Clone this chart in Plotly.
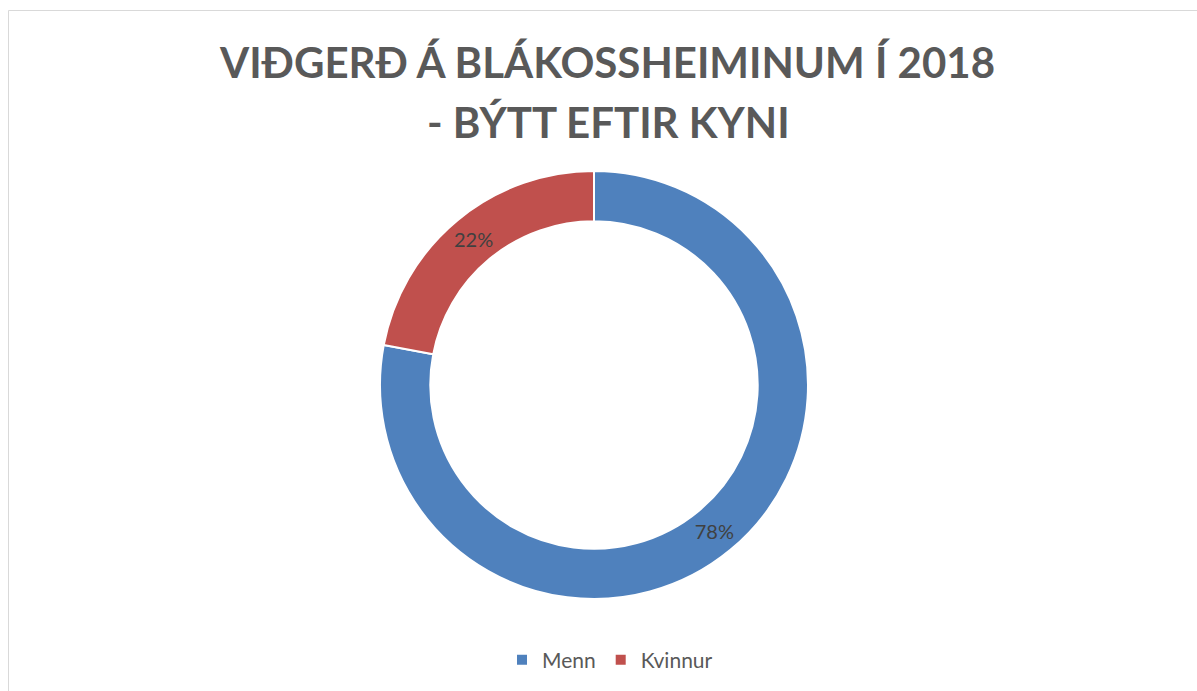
import plotly.graph_objects as go

categories = ["Menn", "Kvinnur"]
values = [78, 22]
colors = ["#4F81BD", "#C0504D"]
title_lines = ["VIĐGERĐ Á BLÁKOSSHEIMINUM Í 2018", "- BÝTT EFTIR KYNI"]

W, H = 1197, 691

fig = go.Figure(go.Pie(
    labels=categories,
    values=values,
    hole=0.765,
    sort=False,
    direction="clockwise",
    rotation=0,
    marker=dict(colors=colors, line=dict(color="white", width=2)),
    textinfo="percent",
    texttemplate="%{percent:.0%}",
    textposition="inside",
    insidetextorientation="horizontal",
    textfont=dict(family="Lato", size=20, color="#404040"),
    domain=dict(x=[380 / W, 808 / W], y=[(H - 599) / H, (H - 171) / H]),
    hoverinfo="label+percent",
))

fig.add_annotation(text="<b>%s</b>" % title_lines[0], x=607 / W, y=(H - 62) / H,
                   xref="paper", yref="paper", xanchor="center", yanchor="middle",
                   showarrow=False, font=dict(family="Lato", size=42, color="#595959"))
fig.add_annotation(text="<b>%s</b>" % title_lines[1], x=608 / W, y=(H - 122) / H,
                   xref="paper", yref="paper", xanchor="center", yanchor="middle",
                   showarrow=False, font=dict(family="Lato", size=42, color="#595959"))

fig.add_shape(type="rect", xref="paper", yref="paper",
              x0=8.5 / W, x1=1.02, y0=-0.02, y1=(H - 10.5) / H,
              line=dict(color="#D9D9D9", width=1), fillcolor="rgba(0,0,0,0)")

fig.update_layout(
    width=W, height=H,
    margin=dict(l=0, r=0, t=0, b=0),
    paper_bgcolor="white", plot_bgcolor="white",
    showlegend=True,
    legend=dict(orientation="h", x=610 / W, xanchor="center", y=(H - 660) / H, yanchor="middle",
                font=dict(family="Lato", size=21, color="#595959"),
                itemsizing="constant", traceorder="normal", itemwidth=30),
)

fig.write_html("out.html")
